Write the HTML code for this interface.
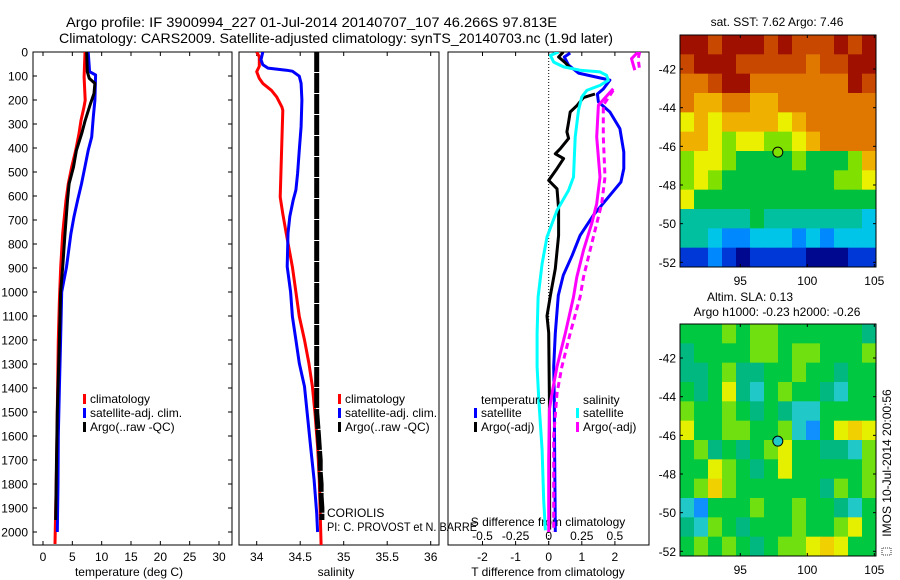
<!DOCTYPE html>
<html><head><meta charset="utf-8"><style>
html,body{margin:0;padding:0;background:#fff}
svg{display:block;font-family:"Liberation Sans",sans-serif}
</style></head><body>
<svg id="fig" width="900" height="580" viewBox="0 0 900 580" xmlns="http://www.w3.org/2000/svg">
<defs>
<clipPath id="c1"><rect x="33" y="52" width="199" height="493"/></clipPath>
<clipPath id="c2"><rect x="239" y="52" width="200" height="493"/></clipPath>
<clipPath id="c3"><rect x="448" y="52" width="201" height="493"/></clipPath>
</defs>
<text x="66" y="27" font-size="14" textLength="491" lengthAdjust="spacingAndGlyphs">Argo profile: IF 3900994_227 01-Jul-2014 20140707_107 46.266S 97.813E</text>
<text x="59" y="43" font-size="14" textLength="554" lengthAdjust="spacingAndGlyphs">Climatology: CARS2009. Satellite-adjusted climatology: synTS_20140703.nc (1.9d later)</text>
<g id="g1"></g>
<g id="g2"></g>
<g id="g3"></g>
<g id="gm1"></g>
<g id="gm2"></g>
<text x="777" y="26" font-size="12" text-anchor="middle">sat. SST: 7.62 Argo: 7.46</text>
<text x="750" y="301" font-size="12" text-anchor="middle">Altim. SLA: 0.13</text>
<text x="777" y="316" font-size="12" text-anchor="middle">Argo h1000: -0.23 h2000: -0.26</text>
<g transform="translate(891,467) rotate(-90)">
<rect x="-88" y="-9" width="7" height="9" fill="none" stroke="#000" stroke-width="0.8" stroke-dasharray="1,1"/>
<text x="4" y="0" font-size="12" text-anchor="middle">IMOS 10-Jul-2014 20:00:56</text>
</g>
<text x="327" y="517" font-size="12">CORIOLIS</text>
<text x="327" y="531" font-size="12" textLength="150" lengthAdjust="spacingAndGlyphs">PI: C. PROVOST et N. BARRE</text>
</svg>
<script>
// ---- data ----
const tDepth = [0,104,201,229,285,340,410,479,549,618,757,896,1035,1200,1500,1700,1900,2050];
const tClim  = [7.16,7.0,7.2,6.99,6.48,6.14,5.57,4.89,4.32,3.92,3.35,3.01,2.79,2.6,2.44,2.33,2.16,2.04];
const tsDepth = [0,82,96,201,271,354,410,479,549,618,688,757,896,1000,1200,1400,1600,1800,2000];
const tSat    = [7.7,7.95,8.97,8.85,8.57,8.3,7.7,7.14,6.57,5.9,5.27,4.76,4.0,3.18,3.0,2.8,2.6,2.55,2.44];
const taDepth = [0,82,110,131,173,215,285,340,410,479,549,618,757,896,1000,1200,1500,1700,1950];
const tArgo   = [7.44,7.55,7.9,8.85,8.7,8.1,7.2,6.6,5.7,5.2,4.45,4.17,3.75,3.35,3.0,2.8,2.44,2.3,2.16];

const sDepth = [0,20,60,82,110,131,160,187,229,243,479,604,674,757,896,1000,1102,1200,1297,1394,1505,1644,1783,1922,2054];
const sClim  = [34.0,34.03,34.03,34.0,34.03,34.07,34.17,34.23,34.29,34.30,34.28,34.27,34.30,34.34,34.41,34.45,34.49,34.55,34.60,34.64,34.67,34.70,34.72,34.73,34.74];
const ssDepth = [0,32,53,67,76,80,101,131,200,311,408,506,575,617,686,756,894,1000,1102,1200,1297,1394,1505,1644,1783,1922,2000];
const sSat    = [34.07,34.05,34.07,34.13,34.34,34.41,34.49,34.51,34.52,34.51,34.49,34.47,34.45,34.42,34.38,34.36,34.35,34.39,34.41,34.45,34.49,34.55,34.58,34.62,34.66,34.69,34.70];
const saDepth = [0,100,200,300,400,500,600,700,800,900,1000,1100,1200,1300,1400,1500,1550,1600,1650,1700,1750,1800,1850,1900,1950];
const sArgo   = [34.69,34.69,34.69,34.69,34.69,34.69,34.69,34.69,34.69,34.69,34.69,34.69,34.69,34.69,34.69,34.69,34.70,34.71,34.72,34.73,34.73,34.74,34.74,34.75,34.75];

const dbDepth = [4,21,55,88,117,154,175,208,250,319,417,486,542,597,680,764,847,930,1014,1172,1311,1450,1700,2000];
const dTsat   = [0.65,0.47,0.6,0.9,1.85,1.65,1.47,1.5,1.85,2.15,2.27,2.27,2.18,1.85,1.35,0.95,0.71,0.44,0.29,0.2,0.15,0.17,0.18,0.2];
const dkDepth = [0,21,45,66,null,175,190,222,250,292,333,360,403,424,444,486,535,570,653,764,903,1014,1100,1170,1450,1990];
const dTargo  = [0.44,0.3,0.5,0.65,null,1.4,1.05,0.86,0.65,0.6,0.55,0.6,0.35,0.2,0.45,0.25,0.0,0.25,0.3,0.3,0.2,0.05,-0.05,0.0,0.02,0.03];
const dcDepth = [0,14,42,62,76,83,97,118,139,160,187,243,354,521,576,660,771,882,1021,1172,1311,1450,1658,1868,1993];
const dSsat   = [0.3,0.05,0.15,0.45,0.95,1.55,1.75,1.8,1.55,1.15,1.0,0.9,0.8,0.75,0.6,0.25,-0.05,-0.2,-0.32,-0.35,-0.35,-0.3,-0.2,-0.15,-0.1];
const dmDepth = [0,28,76,null,153,222,354,521,632,715,826,938,1021,1172,1311,1422,1490,1700,2000];
const dSargo  = [2.7,2.5,2.6,null,1.95,1.5,1.45,1.55,1.45,1.3,1.05,0.85,0.75,0.5,0.25,0.1,0.02,0.0,0.0];
const dnDepth = [0,28,76,null,160,222,354,521,632,715,826,938,1021,1172,1311,1422,1600,2000];
const dSargo2 = [2.75,2.7,2.75,null,1.95,1.65,1.65,1.7,1.6,1.45,1.25,1.05,0.95,0.65,0.4,0.25,0.15,0.15];

const depthTicks = [0,100,200,300,400,500,600,700,800,900,1000,1100,1200,1300,1400,1500,1600,1700,1800,1900,2000];
const tTicks = [0,5,10,15,20,25,30];
const sTicks = [34,34.5,35,35.5,36];
const sTickLabels = ["34","34.5","35","35.5","36"];
const dTTicks = [-2,-1,0,1,2];
const dSTicks = [-0.5,-0.25,0,0.25,0.5];
const dSTickLabels = ["-0.5","-0.25","0","0.25","0.5"];

const sstGrid = [
[11,11,10,11,11,11,10,11,10,10,10,11,10,11],
[10,11,11,11,10,10,10,10,10,9,10,10,11,11],
[9,9,10,11,11,9,9,9,9,9,9,9,11,10],
[9,8,8,9,9,8,8,9,9,9,9,9,9,9],
[7,8,7,8,8,8,8,7,8,9,9,9,9,9],
[8,8,7,6,7,7,6,6,7,8,9,9,9,9],
[6,7,7,6,5,5,5,5,6,5,5,5,6,8],
[6,7,6,5,5,5,5,5,5,5,5,6,6,7],
[7,5,5,5,5,5,5,5,5,5,5,5,5,5],
[4,4,4,4,4,5,4,4,4,4,4,4,4,3],
[4,4,3,2,2,3,3,3,2,3,2,3,3,3],
[1,1,2,1,0,1,1,1,1,0,0,0,1,1]];
const sstColors = ["#00088f","#0038d8","#0088ff","#00c4e8","#00c0a0","#00c040","#80e000","#eaf000","#f0b000","#e07800","#c84800","#a01000"];
const slaGrid = [
[3,3,3,4,3,4,4,3,3,3,3,3,3,2],
[2,3,3,3,3,4,4,3,4,4,3,3,3,4],
[2,2,3,4,2,2,3,3,4,3,3,2,3,3],
[3,2,3,5,2,1,3,4,3,3,2,1,3,3],
[4,3,3,4,3,2,3,2,1,1,3,3,3,3],
[5,3,3,4,4,3,3,4,1,0,3,5,6,5],
[3,4,2,3,2,3,4,5,3,3,2,2,1,4],
[3,3,5,4,3,2,3,5,3,3,3,3,3,4],
[3,4,6,4,3,3,3,3,3,3,2,4,3,4],
[1,0,3,3,3,4,3,3,4,3,3,2,1,3],
[2,1,4,3,2,3,3,3,4,3,3,4,5,3],
[3,4,3,4,3,2,3,4,4,5,6,5,3,3]];
const slaColors = ["#1090ff","#20c8c8","#00b880","#00c840","#70e010","#e4f000","#f0d000"];
const mapLatTicks = [-42,-44,-46,-48,-50,-52];
const mapLonTicks = [95,100,105];
const argoLon = 97.8, argoLat = -46.3;

const NS='http://www.w3.org/2000/svg';
const yD = d => 52 + d*0.24;
const xT = t => 43 + t*5.867;
const xS = s => 256.7 + (s-34)*87;
const xDf = v => 548.7 + v*33.1;
function mk(tag, attrs, parent){const e=document.createElementNS(NS,tag);for(const k in attrs)e.setAttribute(k,attrs[k]);parent.appendChild(e);return e;}
function line(parent, depths, vals, xf, color, name, clip, dash, w){
  let segs=[],cur=[];
  for(let i=0;i<depths.length;i++){
    if(depths[i]===null||vals[i]===null){if(cur.length)segs.push(cur);cur=[];continue;}
    cur.push(xf(vals[i]).toFixed(1)+','+yD(depths[i]).toFixed(1));
  }
  if(cur.length)segs.push(cur);
  const p=mk('path',{d:segs.map(s=>'M'+s.join('L')).join(''),fill:'none',stroke:color,'stroke-width':w||3,'clip-path':'url(#'+clip+')','stroke-linejoin':'round'},parent);
  if(dash)p.setAttribute('stroke-dasharray',dash);
  
  
}
function frame(parent,x0,x1,name){
  const r=mk('rect',{x:x0,y:52,width:x1-x0,height:493,fill:'none',stroke:'#000','stroke-width':1},parent);
  
  
}
function xticks(parent,vals,labels,xf,ly,fs,name){
  vals.forEach((v,i)=>{
    const x=xf(v);
    mk('line',{x1:x,x2:x,y1:52,y2:56,stroke:'#000'},parent);
    mk('line',{x1:x,x2:x,y1:541,y2:545,stroke:'#000'},parent);
    const t=mk('text',{x:x,y:ly,'font-size':fs||12,'text-anchor':'middle'},parent);
    t.textContent=labels[i];
    
    
  });
}
function legend(parent,x,y0,items){
  items.forEach((it,i)=>{
    const y=y0+i*14;
    mk('rect',{x:x,y:y-5,width:3,height:10,fill:it[1]},parent);
    const t=mk('text',{x:x+7,y:y+4,'font-size':12},parent);
    t.textContent=it[0];
    
    
  });
}

const g1=document.getElementById('g1');
frame(g1,33,232,'temperature-plot-frame');
depthTicks.forEach(d=>{
  const y=yD(d);
  mk('line',{x1:33,x2:37,y1:y,y2:y,stroke:'#000'},g1);
  mk('line',{x1:228,x2:232,y1:y,y2:y,stroke:'#000'},g1);
  const t=mk('text',{x:28,y:y+4.5,'font-size':12,'text-anchor':'end'},g1);
  t.textContent=d;
  
  
});
xticks(g1,tTicks,tTicks.map(String),xT,561,12,'temperature-tick-label');
let t1=mk('text',{x:129,y:576,'font-size':12,'text-anchor':'middle'},g1);t1.textContent='temperature (deg C)';


line(g1,tDepth,tClim,xT,'#ff0000','temp-climatology-line','c1');
line(g1,tsDepth,tSat,xT,'#0000ff','temp-satellite-line','c1');
line(g1,taDepth,tArgo,xT,'#000000','temp-argo-line','c1');
legend(g1,83,399,[['climatology','#ff0000'],['satellite-adj. clim.','#0000ff'],['Argo(..raw -QC)','#000']]);

const g2=document.getElementById('g2');
frame(g2,239,439,'salinity-plot-frame');
xticks(g2,sTicks,sTickLabels,xS,561,12,'salinity-tick-label');
let t2=mk('text',{x:336,y:576,'font-size':12,'text-anchor':'middle'},g2);t2.textContent='salinity';


line(g2,sDepth,sClim,xS,'#ff0000','sal-climatology-line','c2');
line(g2,ssDepth,sSat,xS,'#0000ff','sal-satellite-line','c2');
line(g2,saDepth,sArgo,xS,'#000000','sal-argo-line','c2','20,1',5);
legend(g2,338,399,[['climatology','#ff0000'],['satellite-adj. clim.','#0000ff'],['Argo(..raw -QC)','#000']]);

const g3=document.getElementById('g3');
frame(g3,448,649,'difference-plot-frame');
mk('line',{x1:xDf(0),x2:xDf(0),y1:52,y2:545,stroke:'#000','stroke-dasharray':'1,2','stroke-width':1},g3);
dTTicks.forEach(v=>{const x=xDf(v);mk('line',{x1:x,x2:x,y1:52,y2:56,stroke:'#000'},g3);mk('line',{x1:x,x2:x,y1:541,y2:545,stroke:'#000'},g3);
  const t=mk('text',{x:x,y:561,'font-size':12,'text-anchor':'middle'},g3);t.textContent=String(v);
  
  });
dSTicks.forEach((v,i)=>{const t=mk('text',{x:xDf(v*4),y:540,'font-size':12,'text-anchor':'middle'},g3);t.textContent=dSTickLabels[i];
  
  });
let t3=mk('text',{x:548,y:576,'font-size':12,'text-anchor':'middle'},g3);t3.textContent='T difference from climatology';


let t4=mk('text',{x:548,y:526,'font-size':12,'text-anchor':'middle'},g3);t4.textContent='S difference from climatology';


line(g3,dbDepth,dTsat,xDf,'#0000ff','t-satellite-diff-line','c3');
line(g3,dkDepth,dTargo,xDf,'#000000','t-argo-diff-line','c3');
line(g3,dcDepth,dSsat,xDf,'#00ffff','s-satellite-diff-line','c3');
line(g3,dmDepth,dSargo,xDf,'#ff00ff','s-argo-diff-line','c3');
line(g3,dnDepth,dSargo2,xDf,'#ff00ff','s-argo-diff-dashed-line','c3','6,4');
let lt=mk('text',{x:481,y:404,'font-size':12},g3);lt.textContent='temperature';


let ls=mk('text',{x:583,y:404,'font-size':12},g3);ls.textContent='salinity';


legend(g3,474,413,[['satellite','#0000ff'],['Argo(-adj)','#000']]);
legend(g3,576,413,[['satellite','#00ffff'],['Argo(-adj)','#ff00ff']]);

function drawMap(gid,grid,colors,y0,markerFill,name){
  const g=document.getElementById(gid);
  const x0=680,w=196,h=232;
  const lonX=l=>x0+(l-90.5)*13.4;
  const latY=la=>y0+(-40.24-la)*19.33;
  const cw=w/grid[0].length,ch=h/grid.length;
  grid.forEach((row,r)=>row.forEach((c,k)=>{
    const cell=mk('rect',{x:(x0+k*cw).toFixed(2),y:(y0+r*ch).toFixed(2),width:(cw+0.5).toFixed(2),height:(ch+0.5).toFixed(2),fill:colors[c]},g);
    
    
  }));
  const fr=mk('rect',{x:x0,y:y0,width:w,height:h,fill:'none',stroke:'#000'},g);
  
  
  mapLatTicks.forEach(la=>{const y=latY(la);
    mk('line',{x1:x0,x2:x0+3,y1:y,y2:y,stroke:'#000'},g);mk('line',{x1:x0+w-3,x2:x0+w,y1:y,y2:y,stroke:'#000'},g);
    const t=mk('text',{x:x0-4,y:y+4.5,'font-size':12,'text-anchor':'end'},g);t.textContent=String(la);
    
    });
  mapLonTicks.forEach(lo=>{const x=lonX(lo);
    mk('line',{x1:x,x2:x,y1:y0,y2:y0+3,stroke:'#000'},g);mk('line',{x1:x,x2:x,y1:y0+h-3,y2:y0+h,stroke:'#000'},g);
    const t=mk('text',{x:x,y:y0+h+18,'font-size':12,'text-anchor':'middle'},g);t.textContent=String(lo);
    
    });
  const m=mk('circle',{cx:lonX(argoLon),cy:latY(argoLat),r:5,fill:markerFill,stroke:'#000','stroke-width':1},g);
  
  
}
drawMap('gm1',sstGrid,sstColors,35,'#80e000','sst-map');
drawMap('gm2',slaGrid,slaColors,324,'#20c8c8','sla-map');
</script>
</body></html>
